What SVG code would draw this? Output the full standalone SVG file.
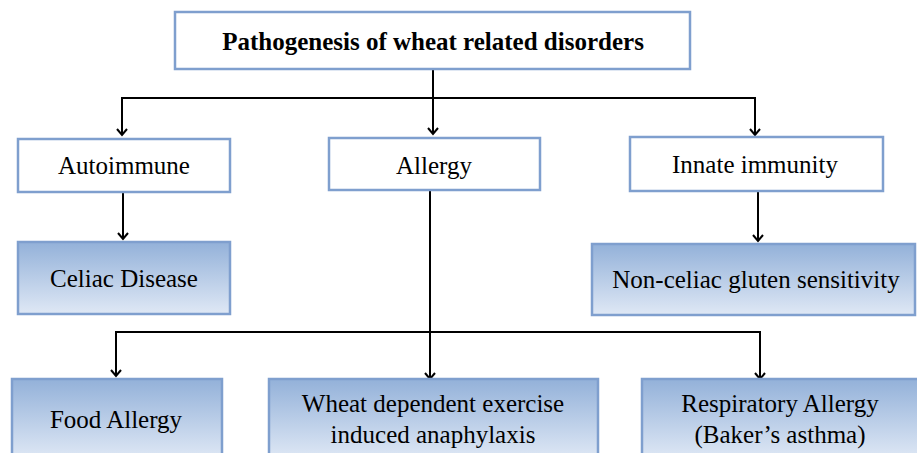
<svg xmlns="http://www.w3.org/2000/svg" width="917" height="453" viewBox="0 0 917 453">
<defs>
<linearGradient id="g" x1="0" y1="0" x2="0" y2="1">
<stop offset="0" stop-color="#93b1d9"/>
<stop offset="1" stop-color="#dfe8f5"/>
</linearGradient>
<path id="ah" d="M-5,-7 L0,-1 L5,-7" fill="none" stroke="#000" stroke-width="2"/>
</defs>
<style>
.w{fill:#fff;stroke:#7f9fce;stroke-width:2.5}
.b{fill:url(#g);stroke:#7f9fce;stroke-width:2.5}
text{font-size:25px;fill:#000;text-anchor:middle}
.t{font-weight:bold}
.c{fill:none;stroke:#000;stroke-width:2}
</style>
<g id="connectors">
<line class="c" x1="433" y1="69" x2="433" y2="134"/>
<polyline class="c" points="122,134 122,98 755,98 755,134"/>
<line class="c" x1="123" y1="192" x2="123" y2="238"/>
<line class="c" x1="758" y1="191" x2="758" y2="240"/>
<line class="c" x1="430" y1="187" x2="430" y2="378"/>
<polyline class="c" points="116,376 116,332 760,332 760,378"/>
<use href="#ah" x="433" y="135"/>
<use href="#ah" x="122" y="136"/>
<use href="#ah" x="755" y="136"/>
<use href="#ah" x="123" y="240"/>
<use href="#ah" x="758" y="242"/>
<use href="#ah" x="430" y="380"/>
<use href="#ah" x="116" y="377"/>
<use href="#ah" x="760" y="380"/>
</g>
<g font-family="Liberation Serif, Times New Roman, serif">
<g id="title"><rect class="w" x="175" y="12" width="515" height="57"/><text class="t" x="433" y="50">Pathogenesis of wheat related disorders</text></g>
<g id="autoimmune"><rect class="w" x="18" y="139" width="212" height="53"/><text x="124" y="174">Autoimmune</text></g>
<g id="allergy"><rect class="w" x="329" y="138" width="211" height="52"/><text x="434" y="174">Allergy</text></g>
<g id="innate"><rect class="w" x="630" y="137" width="253" height="54"/><text x="755" y="173">Innate immunity</text></g>
<g id="celiac"><rect class="b" x="18" y="242" width="212" height="72"/><text x="124" y="287">Celiac Disease</text></g>
<g id="ncgs"><rect class="b" x="592" y="244" width="323" height="71"/><text x="756" y="288">Non-celiac gluten sensitivity</text></g>
<g id="food"><rect class="b" x="12" y="379" width="210" height="80"/><text x="116" y="428">Food Allergy</text></g>
<g id="wdeia"><rect class="b" x="269" y="379" width="329" height="80"/><text x="433" y="412">Wheat dependent exercise</text><text x="433" y="443">induced anaphylaxis</text></g>
<g id="respiratory"><rect class="b" x="642" y="379" width="280" height="80"/><text x="780" y="412">Respiratory Allergy</text><text x="780" y="443">(Baker’s asthma)</text></g>
</g>
</svg>
